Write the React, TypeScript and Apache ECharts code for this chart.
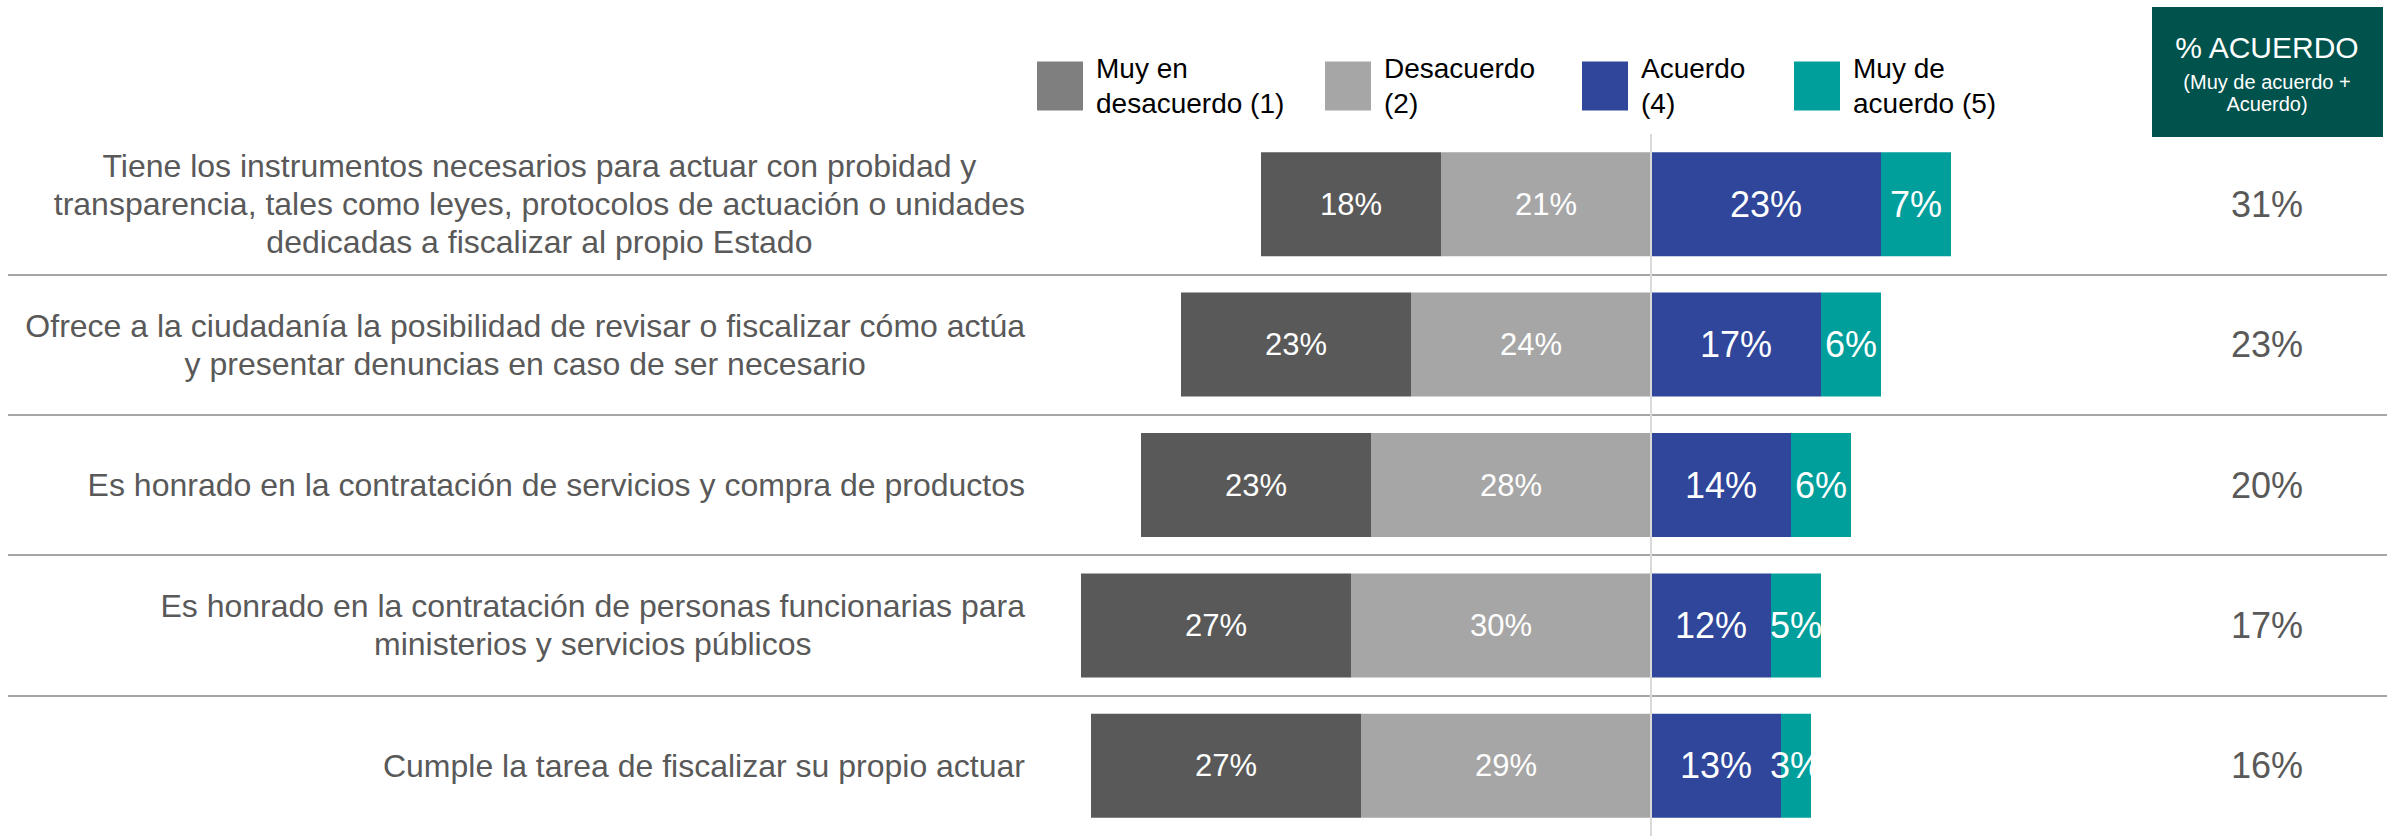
import React, { useEffect, useRef } from "react";
import * as echarts from "echarts";

const categories = [
  "Tiene los instrumentos necesarios para actuar con probidad y\ntransparencia, tales como leyes, protocolos de actuación o unidades\ndedicadas a fiscalizar al propio Estado",
  "Ofrece a la ciudadanía la posibilidad de revisar o fiscalizar cómo actúa\ny presentar denuncias en caso de ser necesario",
  "Es honrado en la contratación de servicios y compra de productos",
  "Es honrado en la contratación de personas funcionarias para\nministerios y servicios públicos",
  "Cumple la tarea de fiscalizar su propio actuar",
];
const muyDesacuerdo = [18, 23, 23, 27, 27];
const desacuerdo = [21, 24, 28, 30, 29];
const acuerdo = [23, 17, 14, 12, 13];
const muyAcuerdo = [7, 6, 6, 5, 3];
const totalAcuerdo = [31, 23, 20, 17, 16];
const seriesNames = ["Muy en desacuerdo (1)", "Desacuerdo (2)", "Acuerdo (4)", "Muy de acuerdo (5)"];
const legendLabels = ["Muy en\ndesacuerdo (1)", "Desacuerdo\n(2)", "Acuerdo\n(4)", "Muy de\nacuerdo (5)"];
const headerLines = ["% ACUERDO", "(Muy de acuerdo +", "Acuerdo)"];

const FONT = "'Liberation Sans', Arial, sans-serif";
const COLORS = ["#595959", "#A6A6A6", "#2F469B", "#009F9B"];
const LEGEND_COLORS = ["#7F7F7F", "#A6A6A6", "#2F469B", "#009F9B"];
const LEGEND_LEFT = [1037, 1325, 1582, 1794];

export default function App() {
  const ref = useRef<HTMLDivElement>(null);
  useEffect(() => {
    if (!ref.current) return;
    const chart = echarts.init(ref.current, undefined, { renderer: "svg" });
    const labelFmt = (p: any) => Math.abs(p.value) + "%";
    const mkBar = (name: string, data: number[], color: string, fontSize: number, extra: any = {}) => ({
      name,
      type: "bar",
      stack: "total",
      barWidth: 104,
      data,
      itemStyle: { color },
      label: {
        show: true,
        position: "inside",
        color: "#FFFFFF",
        fontSize,
        fontFamily: FONT,
        formatter: labelFmt,
      },
      emphasis: { disabled: true },
      ...extra,
    });
    const option: any = {
      animation: false,
      textStyle: { fontFamily: FONT },
      legend: seriesNames.map((n, i) => ({
        left: LEGEND_LEFT[i],
        top: 47,
        padding: 0,
        itemWidth: 46,
        itemHeight: 49,
        icon: "rect",
        selectedMode: false,
        data: [{ name: n, itemStyle: { color: LEGEND_COLORS[i] } }],
        formatter: (name: string) => legendLabels[seriesNames.indexOf(name)],
        textStyle: {
          fontSize: 28,
          lineHeight: 35,
          color: "#000000",
          fontFamily: FONT,
          padding: [8, 0, 0, 8],
        },
      })),
      grid: { left: 8, right: 0, top: 134, height: 707, containLabel: false },
      xAxis: {
        type: "value",
        min: -164.3,
        max: 73.6,
        show: false,
        splitLine: { show: false },
      },
      yAxis: [
        {
          type: "category",
          data: categories,
          inverse: true,
          position: "left",
          axisLine: { show: false },
          axisTick: { show: false },
          splitLine: {
            show: true,
            showMinLine: false,
            showMaxLine: false,
            lineStyle: { color: "#A6A6A6", width: 2 },
          },
          axisLabel: {
            inside: true,
            margin: 1017,
            align: "right",
            verticalAlign: "middle",
            formatter: (v: string) =>
              v
                .split("\n")
                .map((l) => "{c|" + l + "}")
                .join("\n"),
            rich: {
              c: {
                align: "center",
                fontSize: 32,
                lineHeight: 38,
                color: "#595959",
                fontFamily: FONT,
              },
            },
          },
        },
        {
          type: "category",
          data: totalAcuerdo.map((v) => String(v)),
          inverse: true,
          position: "right",
          axisLine: { show: false },
          axisTick: { show: false },
          splitLine: { show: false },
          axisLabel: {
            inside: true,
            margin: 120,
            align: "center",
            verticalAlign: "middle",
            fontSize: 36,
            color: "#595959",
            fontFamily: FONT,
            formatter: (v: string) => v + "%",
          },
        },
      ],
      series: [
        mkBar(seriesNames[1], desacuerdo.map((v) => -v), COLORS[1], 31),
        mkBar(seriesNames[0], muyDesacuerdo.map((v) => -v), COLORS[0], 31),
        mkBar(seriesNames[2], acuerdo, COLORS[2], 36, {
          markLine: {
            silent: true,
            symbol: "none",
            label: { show: false },
            lineStyle: { color: "#D9D9D9", width: 2, type: "solid" },
            data: [{ xAxis: 0 }],
          },
        }),
        mkBar(seriesNames[3], muyAcuerdo, COLORS[3], 36),
      ],
      graphic: [
        {
          type: "rect",
          shape: { x: 2152, y: 7, width: 231, height: 130 },
          style: { fill: "#00524C" },
        },
        {
          type: "text",
          x: 2267,
          y: 47,
          style: { text: headerLines[0], fontSize: 30, fontFamily: FONT, fill: "#FFFFFF", align: "center", verticalAlign: "middle" },
        },
        {
          type: "text",
          x: 2267,
          y: 82,
          style: { text: headerLines[1], fontSize: 20, fontFamily: FONT, fill: "#FFFFFF", align: "center", verticalAlign: "middle" },
        },
        {
          type: "text",
          x: 2267,
          y: 104,
          style: { text: headerLines[2], fontSize: 20, fontFamily: FONT, fill: "#FFFFFF", align: "center", verticalAlign: "middle" },
        },
      ],
    };
    chart.setOption(option);
    return () => chart.dispose();
  }, []);
  return (
    <div
      ref={ref}
      style={{ position: "fixed", left: 0, top: 0, width: 2387, height: 836, background: "#FFFFFF" }}
    />
  );
}
